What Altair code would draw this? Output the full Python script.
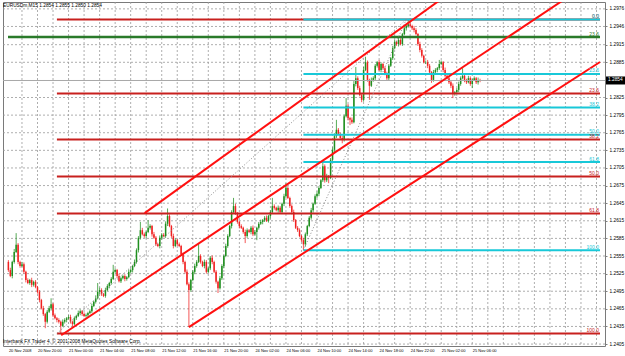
import json
import altair as alt
import pandas as pd

# ---------------- data (prices in pips above 1.2400) ----------------
BASE = 1.2400
PIP = 0.0001
first_open = 145
closes = [
131,121,145,162,174,145,138,141,128,114,
109,114,106,111,102,94,80,66,56,43,
60,66,73,54,49,46,43,36,43,46,
49,51,43,39,49,53,58,61,56,53,
54,58,61,70,77,83,94,97,90,87,
97,104,109,116,128,131,121,112,117,121,
116,119,128,131,138,145,165,186,199,192,
189,196,203,206,192,186,175,172,186,191,
189,210,223,206,189,172,182,175,172,158,
145,128,107,97,114,128,138,145,155,145,
138,145,128,134,152,145,128,111,100,117,
138,155,172,189,206,230,240,227,213,206,
203,196,189,199,196,203,192,196,203,210,
213,216,220,215,223,230,240,237,233,237,
230,244,257,271,254,240,230,216,203,199,
189,182,175,192,206,220,233,244,257,261,
271,284,308,284,291,288,319,336,359,370,
363,356,353,393,411,390,387,383,448,458,
441,429,421,472,485,455,445,455,458,479,
485,472,482,475,465,458,479,492,509,520,
516,523,516,533,543,547,550,547,543,540,
533,516,506,496,485,485,479,468,455,468,
472,475,482,485,472,462,458,451,445,431,
434,438,448,458,462,455,451,458,448,455,
458,451,455,454]
upper_wick = [
3,4,2,5,20,3,2,4,3,2,
3,2,4,2,3,2,3,2,4,2,
3,4,10,2,3,2,3,2,4,3,
2,3,4,2,3,2,4,3,2,3,
3,2,3,4,2,5,15,4,3,2,
4,3,2,3,12,3,2,4,3,2,
3,2,4,3,2,4,3,3,14,4,
3,2,13,3,2,4,3,2,4,3,
3,4,13,3,2,4,3,2,3,2,
3,2,4,3,2,3,4,3,22,3,
2,4,3,2,3,4,2,3,2,4,
3,2,4,3,2,3,14,4,3,2,
3,2,4,3,2,3,4,3,2,3,
4,2,3,4,2,3,14,3,2,4,
3,2,4,8,3,2,3,4,2,3,
3,2,4,3,2,3,4,2,3,4,
3,2,7,3,4,2,3,4,5,17,
3,2,4,3,13,3,2,4,5,19,
3,4,2,5,9,3,2,4,3,3,
2,4,3,2,3,4,3,2,4,3,
2,4,3,2,3,2,8,3,2,4,
3,2,4,3,2,3,4,3,2,4,
3,2,7,3,2,4,3,2,3,4,
2,3,4,3,13,3,2,4,3,2,
3,2,4,2]
lower_wick = [
3,2,4,3,2,4,3,2,3,4,
2,3,4,3,2,3,4,2,3,11,
3,2,4,3,2,4,3,13,2,3,
4,2,3,4,2,3,2,4,3,2,
3,4,2,3,2,3,2,4,3,2,
3,2,4,3,2,3,4,2,3,2,
4,3,2,3,4,2,3,4,3,2,
3,4,2,3,4,2,3,2,4,3,
2,3,4,2,3,4,2,3,2,3,
4,3,2,63,3,2,4,3,2,3,
2,4,3,2,3,4,2,3,8,2,
3,4,2,3,2,4,3,2,3,4,
2,3,12,3,2,4,3,2,14,3,
2,4,3,2,3,4,2,3,2,4,
3,2,4,3,2,3,4,3,2,3,
2,3,10,4,3,2,3,4,2,3,
4,2,3,4,3,9,2,3,4,3,
2,3,6,3,2,4,9,3,2,4,
3,2,4,3,2,3,24,2,3,4,
3,2,4,3,2,3,4,2,3,2,
3,4,2,3,2,4,3,2,3,4,
2,3,4,3,2,3,4,3,5,3,
2,4,3,2,4,3,2,3,4,7,
3,2,4,3,2,4,3,2,3,7,
2,3,4,3]

x_labels = ["20 Nov 2008", "20 Nov 20:00", "21 Nov 00:00", "21 Nov 04:00", "21 Nov 08:00",
            "21 Nov 12:00", "21 Nov 16:00", "21 Nov 20:00", "24 Nov 02:00", "24 Nov 06:00",
            "24 Nov 10:00", "24 Nov 14:00", "24 Nov 18:00", "24 Nov 22:00", "25 Nov 02:00",
            "25 Nov 06:00"]
y_ticks = [1.2976, 1.2946, 1.2915, 1.2885, 1.2825, 1.2795, 1.2765, 1.2735, 1.2705, 1.2675,
           1.2645, 1.2615, 1.2585, 1.2555, 1.2525, 1.2495, 1.2465, 1.2435, 1.2405]

fib_levels = [0.0, 23.6, 38.2, 50.0, 61.8, 100.0]
red_fib = {"start": 26, "low": 1.2423, "high": 1.2958}
cyan_fib = {"start": 153, "low": 1.2565, "high": 1.2958}
green_level = {"price": 1.2928, "label": "23.6"}

trend_j1 = [28.2, 71.2, 94.0]
trend_p1 = [1.2420, 1.2628, 1.2434]
trend_j2 = [256.1, 207.0, 303.2]
trend_p2 = [1.2923, 1.2952, 1.2880]

bid = 1.2854
header = "EURUSDm,M15  1.2854 1.2855 1.2850 1.2854"
footer = "Interbank FX Trader 4, \u00a9 2001-2008 MetaQuotes Software Corp."

X_MIN, X_MAX = 0.8, 305.8
Y_MIN, Y_MAX = 1.24017, 1.29877

RED_FIB = "#c8201e"
CYAN = "#18c8d8"
GREEN_LVL = "#2a7a2a"
TREND = "#ff1010"
UP = "#1f8f1f"
DOWN = "#f02020"
GRID = "#9a9a9a"
FONT = "Liberation Sans"

# ---------------- tables ----------------
rows = []
prev = first_open
for i, c in enumerate(closes):
    o = prev
    hi = max(o, c) + upper_wick[i]
    lo = min(o, c) - lower_wick[i]
    rows.append({"j": i + 1, "open": BASE + o * PIP, "close": BASE + c * PIP,
                 "high": BASE + hi * PIP, "low": BASE + lo * PIP,
                 "dir": "up" if c >= o else "down"})
    prev = c
candles = pd.DataFrame(rows)


def fib_table(fib, col):
    out = []
    for r in fib_levels:
        p = fib["high"] - r / 100.0 * (fib["high"] - fib["low"])
        out.append({"x1": fib["start"], "x2": X_MAX, "p": p, "color": col,
                    "label": f"{r:.1f}", "w": 2.0})
    return pd.DataFrame(out)


red_levels = fib_table(red_fib, RED_FIB)
cyan_levels = fib_table(cyan_fib, CYAN)
green_levels = pd.DataFrame([{"x1": X_MIN, "x2": X_MAX, "p": green_level["price"],
                              "color": GREEN_LVL, "label": green_level["label"], "w": 2.5}])

diag = pd.DataFrame([
    {"x1": red_fib["start"], "p1": red_fib["low"], "x2": 206, "p2": red_fib["high"]},
    {"x1": cyan_fib["start"], "p1": cyan_fib["low"], "x2": 206, "p2": cyan_fib["high"]},
])

tr = []
for a, b, c, d in zip(trend_j1, trend_p1, trend_j2, trend_p2):
    slope = (d - b) / (c - a)
    tr.append({"x1": a, "p1": b, "x2": X_MAX, "p2": b + slope * (X_MAX - a)})
trends = pd.DataFrame(tr)

xs = alt.Scale(domain=[X_MIN, X_MAX], nice=False, zero=False)
ys = alt.Scale(domain=[Y_MIN, Y_MAX], nice=False, zero=False)

xl = json.dumps(x_labels)
x_vals = [1] + list(range(8, 305, 8))
label_expr = f"datum.value == 1 ? {xl}[0] : (datum.value % 16 == 0 ? {xl}[datum.value / 16] : '')"

X_AXIS = alt.Axis(values=x_vals, labelExpr=label_expr, title=None)
Y_AXIS = alt.Axis(orient="right", values=y_ticks, format=".4f", title=None)


def X(field):
    return alt.X(field, scale=xs, axis=X_AXIS)


def Y(field):
    return alt.Y(field, scale=ys, axis=Y_AXIS)


# grid lines (at the axis tick values)
vgrid = alt.Chart(pd.DataFrame({"g": x_vals[1:]})).mark_rule(
    color=GRID, strokeWidth=1, strokeDash=[2, 2], opacity=0.8).encode(x=X("g:Q"))
hgrid = alt.Chart(pd.DataFrame({"g": y_ticks})).mark_rule(
    color=GRID, strokeWidth=1, strokeDash=[2, 2], opacity=0.8).encode(y=Y("g:Q"))

color_dir = alt.Color("dir:N", scale=alt.Scale(domain=["up", "down"], range=[UP, DOWN]), legend=None)

wicks = alt.Chart(candles).mark_rule(strokeWidth=1, opacity=0.75).encode(
    x=X("j:Q"), y=Y("low:Q"), y2="high:Q", color=color_dir)
bodies = alt.Chart(candles).mark_bar(size=1.5).encode(
    x=X("j:Q"), y=Y("open:Q"), y2="close:Q", color=color_dir)

bid_line = alt.Chart(pd.DataFrame({"p": [bid]})).mark_rule(color="#a8a8a8", strokeWidth=1).encode(
    y=Y("p:Q"), x=alt.value(0), x2=alt.value(602))


def level_layers(df):
    lines = alt.Chart(df).mark_rule().encode(
        x=X("x1:Q"), x2="x2:Q", y=Y("p:Q"),
        color=alt.Color("color:N", scale=None),
        strokeWidth=alt.StrokeWidth("w:Q", scale=None),
    )
    text = alt.Chart(df).mark_text(align="right", baseline="bottom", dx=-1, dy=-0.5,
                                   fontSize=5, font=FONT).encode(
        x=X("x2:Q"), y=Y("p:Q"), text="label:N",
        color=alt.Color("color:N", scale=None),
    )
    return lines, text


red_lines, red_text = level_layers(red_levels)
cyan_lines, cyan_text = level_layers(cyan_levels)
green_lines, green_text = level_layers(green_levels)

diag_lines = alt.Chart(diag).mark_rule(color="#8a8a8a", strokeWidth=1, strokeDash=[1, 2]).encode(
    x=X("x1:Q"), x2="x2:Q", y=Y("p1:Q"), y2="p2:Q")

trend_lines = alt.Chart(trends).mark_rule(color=TREND, strokeWidth=2, clip=True).encode(
    x=X("x1:Q"), x2="x2:Q", y=Y("p1:Q"), y2="p2:Q")

bid_box = alt.Chart(pd.DataFrame({"p": [bid]})).mark_tick(
    color="#000000", size=19, thickness=8, orient="horizontal", opacity=1).encode(
    x=alt.value(612.5), y=Y("p:Q"))
bid_text = alt.Chart(pd.DataFrame({"p": [bid], "t": [f"{bid:.4f}"]})).mark_text(
    color="#ffffff", align="left", baseline="middle", fontSize=4.8, font=FONT).encode(
    x=alt.value(605), y=Y("p:Q"), text="t:N")

head = alt.Chart(pd.DataFrame({"t": [header]})).mark_text(
    align="left", baseline="middle", fontSize=4.8, font=FONT, color="#000000").encode(
    x=alt.value(0), y=alt.value(4), text="t:N")
foot = alt.Chart(pd.DataFrame({"t": [footer]})).mark_text(
    align="left", baseline="middle", fontSize=4.8, font=FONT, color="#000000").encode(
    x=alt.value(0), y=alt.value(340), text="t:N")

chart = alt.layer(
    vgrid, hgrid, wicks, bodies, bid_line, red_lines, cyan_lines, green_lines, diag_lines,
    trend_lines, red_text, cyan_text, green_text, bid_box, bid_text, head, foot
).properties(
    width=602, height=344,
    padding={"left": 3, "top": 2, "right": 20, "bottom": 10},
    autosize="none",
    background="#ffffff",
).configure_view(
    stroke="#7a7a7a", strokeWidth=1
).configure_axis(
    grid=False, domain=False, labelFont=FONT, labelColor="#000000",
    labelFlush=False, labelOverlap=False, labelBound=False,
).configure_axisX(
    labelAlign="left", labelBaseline="top", labelPadding=2, ticks=False, labelFontSize=4.0,
).configure_axisY(
    labelAlign="left", labelPadding=2, tickSize=2, tickColor="#808080", labelFontSize=4.8,
)

chart.save("out.html", embed_options={"renderer": "svg", "actions": False})
